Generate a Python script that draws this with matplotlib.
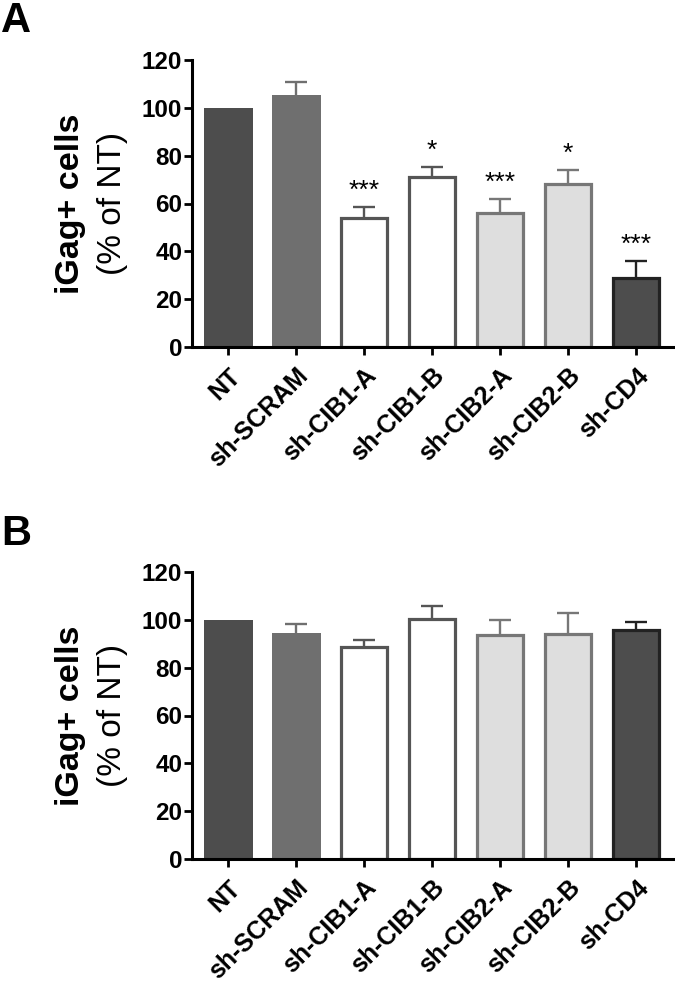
import matplotlib
matplotlib.use("Agg")
import matplotlib.pyplot as plt
import numpy as np

plt.rcParams['font.family'] = ['Liberation Sans', 'DejaVu Sans']

categories = ["NT", "sh-SCRAM", "sh-CIB1-A", "sh-CIB1-B", "sh-CIB2-A", "sh-CIB2-B", "sh-CD4"]
values_A = [100, 105.4, 54.0, 71.0, 56.0, 68.0, 29.0]
errors_A = [0, 5.5, 4.6, 4.3, 5.9, 5.8, 7.0]
stars_A = ["", "", "***", "*", "***", "*", "***"]
values_B = [100, 94.5, 88.6, 100.2, 93.6, 94.1, 95.8]
errors_B = [0, 3.7, 3.0, 5.5, 6.2, 8.8, 3.2]
yticks = [0, 20, 40, 60, 80, 100, 120]

fills = ["#4d4d4d", "#6f6f6f", "#ffffff", "#ffffff", "#dedede", "#dedede", "#4d4d4d"]
edges = ["#4d4d4d", "#6f6f6f", "#555555", "#555555", "#777777", "#777777", "#222222"]
lws = [0, 0, 2.3, 2.3, 2.3, 2.3, 2.3]
widths = [0.72, 0.72, 0.68, 0.68, 0.68, 0.68, 0.68]
errcol = ["#4d4d4d", "#6f6f6f", "#555555", "#555555", "#777777", "#777777", "#222222"]

W, H = 675, 986
fig = plt.figure(figsize=(W / 100, H / 100), dpi=100)

def panel(top_px, bot_px, values, errors, stars, letter, letter_y):
    left_px, right_px = 192, 673
    ax = fig.add_axes([left_px / W, 1 - bot_px / H, (right_px - left_px) / W, (bot_px - top_px) / H])
    x = np.arange(len(categories))
    for i in range(len(categories)):
        ax.bar(x[i], values[i], width=widths[i], color=fills[i], edgecolor=edges[i],
               linewidth=lws[i], zorder=2)
        if errors[i] > 0:
            top = values[i] + errors[i]
            ax.vlines(x[i], values[i], top, color=errcol[i], lw=1.7, zorder=1)
            ax.hlines(top, x[i] - 0.16, x[i] + 0.16, color=errcol[i], lw=1.7, zorder=1)
        if stars and stars[i]:
            ax.annotate(stars[i], (x[i], values[i] + errors[i]), xytext=(0, 3),
                        textcoords="offset points", ha="center", va="bottom", fontsize=19)
    ax.set_xlim(-0.53, 6.54)
    ax.set_ylim(0, 120)
    ax.set_yticks(yticks)
    ax.set_yticklabels([str(t) for t in yticks], fontsize=17.5, fontweight="bold")
    ax.set_xticks(x)
    ax.set_xticklabels(categories, rotation=45, ha="right", va="top", rotation_mode="anchor",
                       fontsize=18, fontweight="bold")
    ax.tick_params(axis="both", length=6, width=2, pad=1, color="black")
    ax.tick_params(axis="x", pad=6)
    for s in ["top", "right"]:
        ax.spines[s].set_visible(False)
    for s in ["left", "bottom"]:
        ax.spines[s].set_linewidth(2.2)
    cy = 1 - (top_px + bot_px) / 2 / H
    fig.text(70 / W, cy, "iGag+ cells", rotation=90, ha="center", va="center",
             fontsize=24.5, fontweight="bold")
    fig.text(112 / W, cy, "(% of NT)", rotation=90, ha="center", va="center", fontsize=24)
    fig.text(1 / W, 1 - letter_y / H, letter, ha="left", va="center", fontsize=30, fontweight="bold")
    return ax

panel(60, 347, values_A, errors_A, stars_A, "A", 21)
panel(572, 859, values_B, errors_B, None, "B", 534)

fig.savefig("out.png", dpi=100)
